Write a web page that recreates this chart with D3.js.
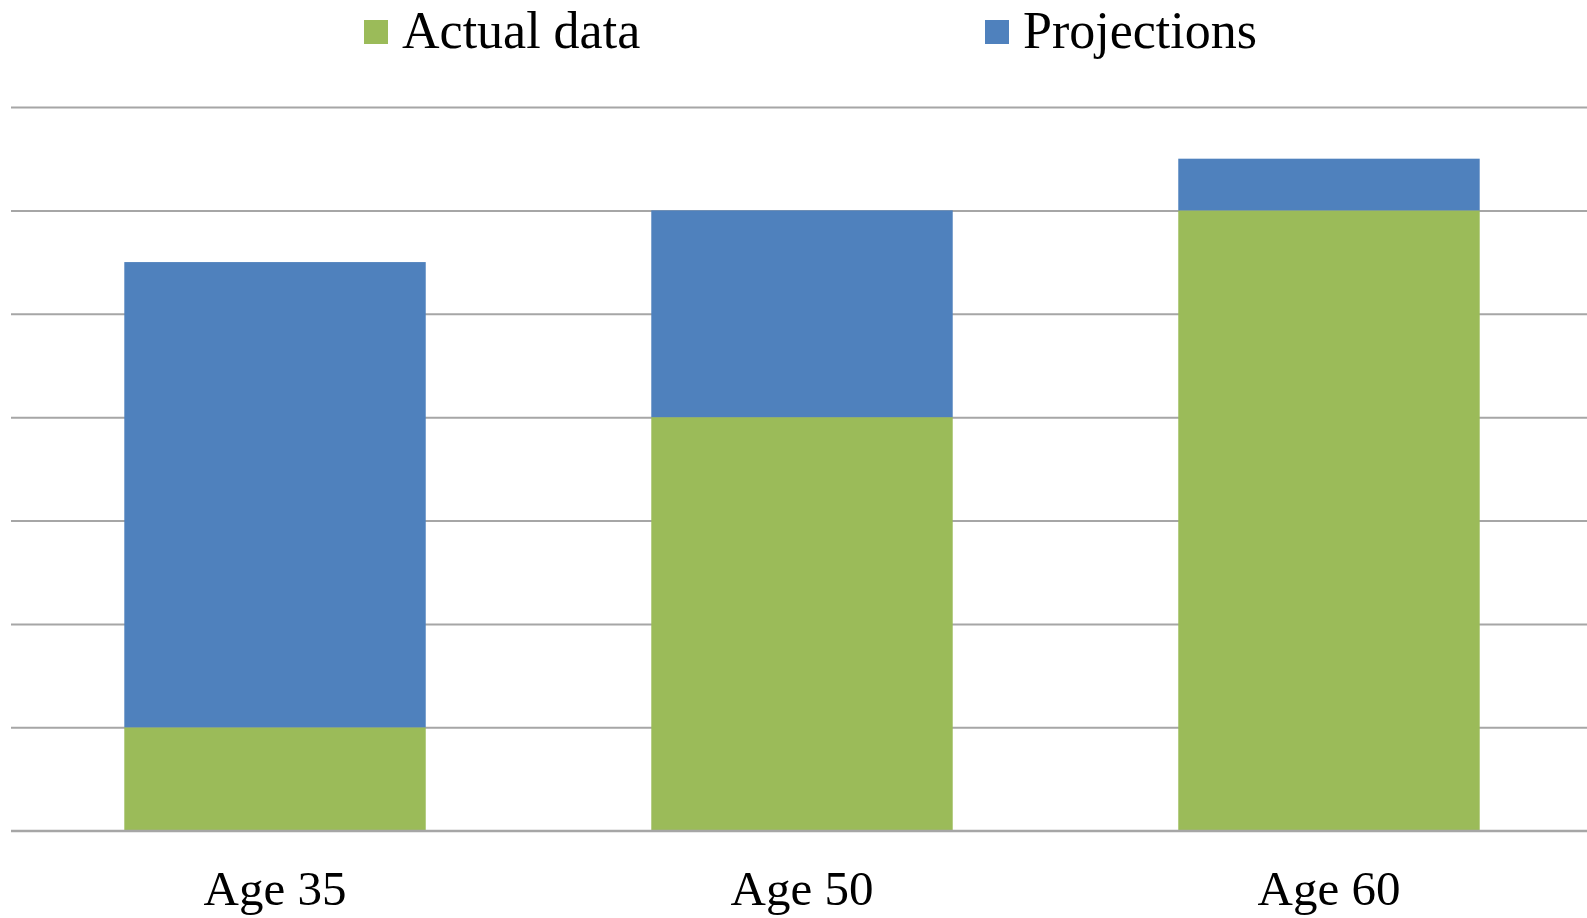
<!DOCTYPE html>
<html>
<head>
<meta charset="utf-8">
<script src="https://cdn.jsdelivr.net/npm/d3@7"></script>
<style>
  body { margin:0; background:#fff; }
  text { font-family: "Liberation Serif", "Times New Roman", serif; fill:#000; }
</style>
</head>
<body>
<div id="chart"></div>
<script>
const categories = ["Age 35", "Age 50", "Age 60"]
const actualData = [1, 4, 6]
const projections = [4.5, 2, 0.5]
const seriesNames = ["Actual data", "Projections"]
const yTicks = [0, 1, 2, 3, 4, 5, 6, 7]

const width = 1587
const height = 918
const margin = { top:107, right:0, bottom:87, left:11 }
const colors = ["#9BBB59", "#4F81BD"]

let svg = d3.select("#chart").append("svg")
    .attr("width", width)
    .attr("height", height)

let rows = categories.map((c, i) => ({ cat:c, "Actual data":actualData[i], "Projections":projections[i] }))
let stacked = d3.stack().keys(seriesNames)(rows)

// plot area runs a little past the right edge of the picture
let xScale = d3.scaleBand()
    .domain(categories)
    .range([margin.left, 1593])
    .paddingInner(0.428)
    .paddingOuter(0.215)

let yScale = d3.scaleLinear()
    .domain([0, 7])
    .range([height - margin.bottom - 0.3, margin.top])

// gridlines
let grid = svg.append("g")
    .attr("transform", `translate(${margin.left},0)`)
    .call(d3.axisLeft(yScale).tickValues(yTicks).tickSize(-(width - margin.left)).tickFormat(""))
grid.select(".domain").remove()
grid.selectAll("line").attr("stroke", "#A6A6A6").attr("stroke-width", 2)

// bars
svg.append("g")
    .selectAll("g")
    .data(stacked)
    .join("g")
    .attr("fill", (d, i) => colors[i])
    .selectAll("rect")
    .data(d => d)
    .join("rect")
    .attr("x", d => xScale(d.data.cat))
    .attr("width", xScale.bandwidth())
    .attr("y", d => yScale(d[1]))
    .attr("height", d => yScale(d[0]) - yScale(d[1]))

// baseline drawn over the bars
svg.append("line")
    .attr("x1", margin.left).attr("x2", width)
    .attr("y1", yScale(0)).attr("y2", yScale(0))
    .attr("stroke", "#A6A6A6").attr("stroke-width", 2)

// x labels
let xAxis = svg.append("g")
    .attr("transform", `translate(0,${yScale(0)})`)
    .call(d3.axisBottom(xScale).tickSize(0).tickPadding(0))
xAxis.select(".domain").remove()
xAxis.selectAll("text")
    .attr("dy", null)
    .attr("y", 74)
    .style("font-size", "49px")
    .style("font-family", "'Liberation Serif', serif")
    .attr("fill", "#000")

// legend
const legendX = [364, 985]
let legend = svg.append("g")
    .selectAll("g")
    .data(seriesNames)
    .join("g")
    .attr("transform", (d, i) => `translate(${legendX[i]},20)`)
legend.append("rect")
    .attr("width", 24).attr("height", 24)
    .attr("fill", (d, i) => colors[i])
legend.append("text")
    .attr("x", 38).attr("y", 28)
    .style("font-size", "52px")
    .text(d => d)
</script>
</body>
</html>
